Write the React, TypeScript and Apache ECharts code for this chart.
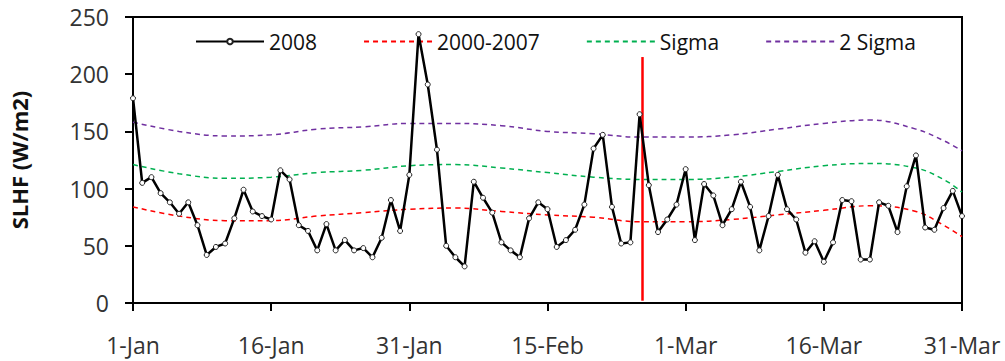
import React, { useEffect, useRef } from "react";
import * as echarts from "echarts";

// Daily SLHF values for 2008, 1-Jan (day 0) to 31-Mar (day 90)
const SLHF_2008 = [
  179, 105, 110, 96, 88, 78, 88, 68, 42, 49,
  52, 74, 99, 80, 76, 73, 116, 108, 68, 63,
  46, 69, 46, 55, 46, 48, 40, 57, 90, 63,
  112, 235, 191, 134, 50, 40, 32, 106, 92, 79,
  53, 46, 40, 74, 88, 82, 49, 55, 64, 86,
  135, 147, 84, 52, 53, 165, 103, 62, 73, 86,
  117, 55, 104, 94, 68, 82, 106, 84, 46, 76,
  112, 82, 73, 44, 54, 36, 53, 90, 89, 38,
  38, 88, 85, 62, 102, 129, 66, 64, 83, 98,
  76,
];

// Sample days (day index from 1-Jan) for the climatology curves
const CURVE_DAYS = [0, 5, 10, 15, 20, 25, 30, 35, 40, 45, 50, 55, 60, 65, 70, 75, 80, 85, 88, 90];
const MEAN_2000_2007 = [84, 76, 72, 72, 76, 79, 82, 83, 80, 77, 75, 71, 71, 73, 77, 81, 85, 80, 68, 58];
const SIGMA = [121, 113, 109, 110, 114, 116, 120, 121, 118, 114, 110, 108, 108, 110, 115, 120, 122, 118, 108, 97];
const TWO_SIGMA = [158, 150, 146, 147, 152, 154, 157, 157, 155, 150, 148, 145, 145, 147, 152, 157, 160, 152, 142, 133];

const TICK_LABELS = ["1-Jan", "16-Jan", "31-Jan", "15-Feb", "1-Mar", "16-Mar", "31-Mar"];
const SERIES_NAMES = ["2008", "2000-2007", "Sigma", "2 Sigma"];
const EVENT_DAY = 55.3;
const EVENT_LINE_RANGE = [2, 215];

const FONT = "'Open Sans', 'Noto Sans', sans-serif";

export default function App() {
  const ref = useRef<HTMLDivElement>(null);

  useEffect(() => {
    if (!ref.current) return;
    const chart = echarts.init(ref.current, undefined, { renderer: "svg" });
    const pairs = (days: number[], vals: number[]) => days.map((d, i) => [d, vals[i]]);
    const dailyPairs = SLHF_2008.map((v, i) => [i, v]);
    const dashed = (name: string, color: string, vals: number[]) => ({
      name,
      type: "line",
      data: pairs(CURVE_DAYS, vals),
      smooth: 0.4,
      symbol: "none",
      lineStyle: { color, width: 1.5, type: [5, 4] },
      itemStyle: { color },
      z: 2,
    });
    chart.setOption({
      animation: false,
      backgroundColor: "#ffffff",
      textStyle: { fontFamily: FONT },
      grid: {
        left: 131,
        right: 43,
        top: 17,
        bottom: 58,
        show: true,
        borderColor: "#000",
        borderWidth: 2,
        backgroundColor: "transparent",
      },
      legend: {
        left: 190,
        top: 26,
        itemWidth: 68,
        itemHeight: 7,
        itemGap: 46,
        data: [
          { name: SERIES_NAMES[0] },
          { name: SERIES_NAMES[1], itemStyle: { opacity: 0 } },
          { name: SERIES_NAMES[2], itemStyle: { opacity: 0 } },
          { name: SERIES_NAMES[3], itemStyle: { opacity: 0 } },
        ],
        textStyle: { fontFamily: FONT, fontSize: 21, color: "#111" },
      },
      xAxis: {
        type: "value",
        min: 0,
        max: 90,
        interval: 15,
        splitLine: { show: false },
        axisLine: { show: true, onZero: false, lineStyle: { color: "#000", width: 2 } },
        axisTick: { show: true, length: 8, lineStyle: { color: "#000", width: 2 } },
        axisLabel: {
          margin: 30,
          fontFamily: FONT,
          fontSize: 23,
          color: "#333",
          formatter: (v: number) => TICK_LABELS[Math.round(v / 15)] ?? "",
        },
      },
      yAxis: {
        type: "value",
        min: 0,
        max: 250,
        interval: 50,
        name: "SLHF (W/m2)",
        nameLocation: "middle",
        nameGap: 103,
        nameTextStyle: { fontFamily: FONT, fontSize: 22, fontWeight: "bold", color: "#111" },
        splitLine: { show: false },
        axisLine: { show: true, lineStyle: { color: "#000", width: 2 } },
        axisTick: { show: true, length: 8, lineStyle: { color: "#000", width: 2 } },
        axisLabel: { margin: 24, fontFamily: FONT, fontSize: 23, color: "#333" },
      },
      series: [
        {
          name: SERIES_NAMES[0],
          type: "line",
          data: dailyPairs,
          symbol: "circle",
          symbolSize: 5,
          showAllSymbol: true,
          lineStyle: { color: "#000", width: 2.5 },
          itemStyle: { color: "#fff", borderColor: "#222", borderWidth: 1 },
          z: 5,
          markLine: {
            silent: true,
            symbol: "none",
            label: { show: false },
            lineStyle: { color: "#ff0000", width: 2.5, type: "solid" },
            data: [
              [
                { coord: [EVENT_DAY, EVENT_LINE_RANGE[0]] },
                { coord: [EVENT_DAY, EVENT_LINE_RANGE[1]] },
              ],
            ],
          },
        },
        dashed(SERIES_NAMES[1], "#ff0000", MEAN_2000_2007),
        dashed(SERIES_NAMES[2], "#00b050", SIGMA),
        dashed(SERIES_NAMES[3], "#7030a0", TWO_SIGMA),
      ],
    });
    return () => chart.dispose();
  }, []);

  return (
    <div
      ref={ref}
      style={{ position: "fixed", left: 0, top: 0, width: 1005, height: 361, background: "#fff" }}
    />
  );
}
